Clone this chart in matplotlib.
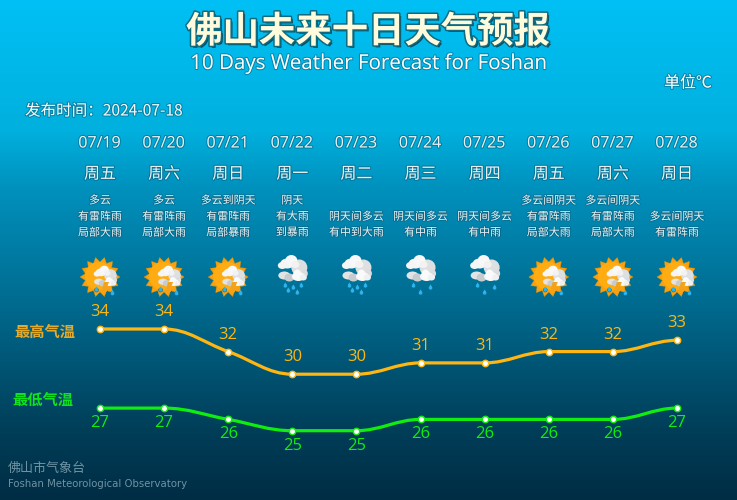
import numpy as np
import matplotlib
matplotlib.use("Agg")
import matplotlib.pyplot as plt
from matplotlib.path import Path
from matplotlib.patches import PathPatch, Circle, Polygon, Ellipse
import matplotlib.patheffects as pe

plt.rcParams['font.family'] = ['Noto Sans CJK SC', 'DejaVu Sans']

dates = ["07/19","07/20","07/21","07/22","07/23","07/24","07/25","07/26","07/27","07/28"]
weekdays = ["周五","周六","周日","周一","周二","周三","周四","周五","周六","周日"]
weather = [
    ["多云","有雷阵雨","局部大雨"],
    ["多云","有雷阵雨","局部大雨"],
    ["多云到阴天","有雷阵雨","局部暴雨"],
    ["阴天","有大雨","到暴雨"],
    ["阴天间多云","有中到大雨"],
    ["阴天间多云","有中雨"],
    ["阴天间多云","有中雨"],
    ["多云间阴天","有雷阵雨","局部大雨"],
    ["多云间阴天","有雷阵雨","局部大雨"],
    ["多云间阴天","有雷阵雨"],
]
icons = ["sun","sun","sun","rain5","rain5","rain3","rain3","sun","sun","sun"]
high = [34,34,32,30,30,31,31,32,32,33]
low = [27,27,26,25,25,26,26,26,26,27]

W, H = 737, 500
fig = plt.figure(figsize=(W/100, H/100), dpi=100)
ax = fig.add_axes([0,0,1,1])
ax.set_xlim(0, W); ax.set_ylim(H, 0); ax.axis("off")

stops_y = [0, 130, 185, 310, 430, 500]
stops_c = np.array([[0,192,245],[0,176,222],[0,146,190],[0,104,140],[0,62,88],[0,44,68]], float)
yy = np.arange(H)
grad = np.stack([np.interp(yy, stops_y, stops_c[:,k]) for k in range(3)], axis=1)[:,None,:]/255
ax.imshow(grad, extent=(0,W,H,0), aspect="auto", zorder=0)

def shadow(c="#0b4a60", w=1.5):
    return [pe.withStroke(linewidth=w, foreground=c, alpha=.45)]

ax.text(368, 32, "佛山未来十日天气预报", fontsize=26.2, fontweight="bold", color="#FDFBDC",
        ha="center", va="center", zorder=5,
        path_effects=[pe.withSimplePatchShadow(offset=(1.5,-1.5), shadow_rgbFace="#0a4f63", alpha=1),
                      pe.withStroke(linewidth=2.2, foreground="#0f6a80")])
ax.text(368, 63.5, "10 Days Weather Forecast for Foshan", fontsize=14.8, family="Open Sans", color="white",
        ha="center", va="center", zorder=5, path_effects=shadow())
ax.text(712, 83, "单位℃", fontsize=11.5, color="white", ha="right", va="center", path_effects=shadow())
ax.text(25, 111, "发布时间\uff1a2024-07-18", fontsize=11.2, color="#EEF8FB", ha="left", va="center", path_effects=shadow())

X0, DX = 100, 64.11
xs_px = X0 + DX*np.arange(10)
for x, d, w, lines in zip(xs_px, dates, weekdays, weather):
    ax.text(x-.5, 143.5, d, fontsize=11.5, family="Open Sans", color="#E8F3F6", ha="center", va="center", path_effects=shadow())
    ax.text(x, 174, w, fontsize=11.5, color="#E8F3F6", ha="center", va="center", path_effects=shadow())
    ys = [200.5,216.5,232.5][-len(lines):]
    for y, t in zip(ys, lines):
        ax.text(x, y, t, fontsize=7.9, color="#E4EFF3", ha="center", va="center", path_effects=shadow(w=1.2))

ax.text(14, 332, "最高气温", fontsize=11, fontweight="bold", family="Noto Sans CJK SC", color="#E5A92A", ha="left", va="center")
ax.text(12, 400, "最低气温", fontsize=11, fontweight="bold", family="Noto Sans CJK SC", color="#12E21E", ha="left", va="center")
ax.text(8, 468.5, "佛山市气象台", fontsize=9.4, color="#6F93A3", ha="left", va="center")
ax.text(8, 484, "Foshan Meteorological Observatory", fontsize=7.3, family="DejaVu Sans", color="#6F93A3", ha="left", va="center")

def blob(cx, cy, parts, s, z):
    for dx, dy, rx, ry, c in parts:
        ax.add_patch(Ellipse((cx+dx*s, cy+dy*s), 2*rx*s, 2*ry*s, fc=c, ec="none", zorder=z))
        z += .01

CLOUD = [
    (7,-2,8,8,"#DDDFE0"), (12,4,3.5,4,"#DADCDD"),
    (-8,6,6,4,"#E2E3E4"), (-3,8,5,4,"#C8CBCD"),
    (-5,-6,7,5,"#F5F5F5"), (-1,-9,6,5.5,"#F8F8F8"), (-10,-4,4.5,3.5,"#F5F5F5"), (3,-5,4,3.5,"#F2F2F2"),
    (6,7,6.5,4.5,"#F8F8F8"), (5,5,4,5,"#FAFAFA"), (11,8,3.5,3,"#F0F0F0"),
]

def drop(cx, cy, r=2.0, z=4):
    ax.add_patch(Circle((cx, cy), r, fc="#2DB4EA", ec="#0C6E9A", lw=.4, zorder=z))
    ax.add_patch(Polygon([(cx-r*.8,cy-.9),(cx+r*.8,cy-.9),(cx,cy-r*1.8)], fc="#2DB4EA", ec="none", zorder=z))

def sun_icon(x, y=277):
    ang = np.linspace(0, 2*np.pi, 29)[:-1]
    rad = np.where(np.arange(28)%2==0, 20, 15)
    ax.add_patch(Polygon(np.c_[x+rad*np.cos(ang), y+rad*np.sin(ang)], fc="#F8A010", ec="#DE9000", lw=.3, zorder=2))
    ax.add_patch(Circle((x-1, y-1), 14, fc="#FFAC12", ec="none", zorder=2.1))
    blob(x+5, y, CLOUD, .78, 3)
    ax.add_patch(Polygon([(x+4,y+5),(x+9,y+5),(x+7,y+10),(x+10,y+10),(x+4,y+18),(x+5,y+12),(x+2,y+12)],
                         fc="#F2A21B", ec="none", zorder=4))
    drop(x-3.5, y+13); drop(x+12.5, y+16.5)

DROPS = {"rain5": [(-7,286),(-4,291),(1,288),(5,293),(9,286)],
         "rain3": [(-7,286),(0,293),(10,288)]}

def rain_icon(x, kind):
    blob(x, 269.5, CLOUD, 1.0, 3)
    for dx, y in DROPS[kind]:
        drop(x+dx, y)

for x, kind in zip(xs_px, icons):
    if kind == "sun":
        sun_icon(x)
    else:
        rain_icon(x, kind)

tax = fig.add_axes([0,0,1,1], facecolor="none")
S = 11.3
tax.set_xlim(-X0/DX, (W-X0)/DX)
tax.set_ylim(34-(H-329)/S, 34+329/S)
tax.axis("off")

def smooth(xv, yv, k=0.38):
    xv = np.asarray(xv, float); yv = np.asarray(yv, float)
    n = len(xv); m = np.zeros(n)
    for i in range(1, n-1):
        if (yv[i]-yv[i-1])*(yv[i+1]-yv[i]) > 0:
            m[i] = (yv[i+1]-yv[i-1])/2
    verts = [(xv[0], yv[0])]; codes = [Path.MOVETO]
    for i in range(n-1):
        verts += [(xv[i]+k, yv[i]+k*m[i]), (xv[i+1]-k, yv[i+1]-k*m[i+1]), (xv[i+1], yv[i+1])]
        codes += [Path.CURVE4]*3
    return Path(verts, codes)

xi = np.arange(10)
for vals, col, off in [(high, "#FFB612", 17), (low, "#10EE10", -15)]:
    tax.add_patch(PathPatch(smooth(xi, vals), fc="none", ec=col, lw=2.3, zorder=3))
    tax.plot(xi, vals, ls="none", marker="o", ms=4.6, mfc="white", mec=col, mew=1.0, zorder=4)
    for a, b in zip(xi, vals):
        tax.annotate(str(b), (a, b), xytext=(0, off*.72), textcoords="offset points", ha="center", va="center",
                     fontsize=12, family="Open Sans", color=col, zorder=5)

fig.savefig("out.png", dpi=100)
